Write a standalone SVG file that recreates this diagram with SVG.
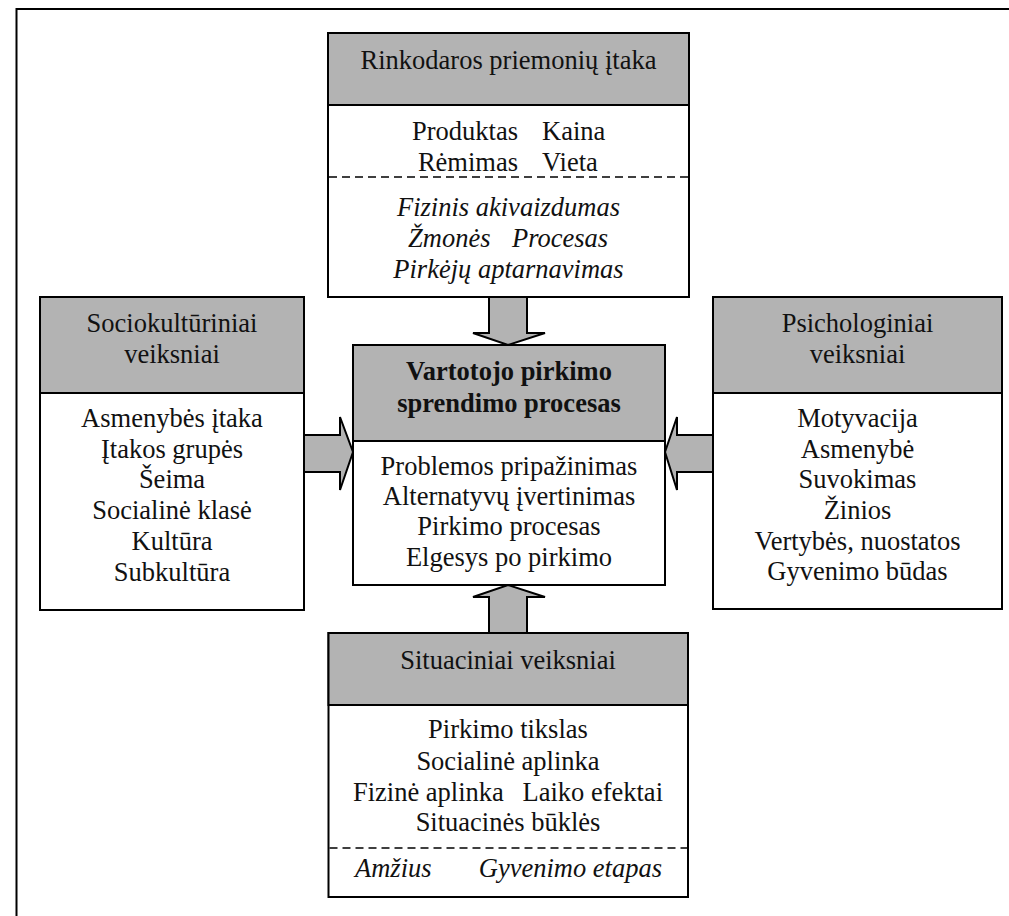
<svg xmlns="http://www.w3.org/2000/svg" width="1009" height="916" viewBox="0 0 1009 916" font-family="Liberation Serif, Times New Roman, serif">
<style>
text{font-size:26.5px;fill:#111;text-anchor:middle}
.i{font-style:italic}
.b{font-weight:bold}
.s{text-anchor:start}
.e{text-anchor:end}
.hd{fill:#b3b3b3;stroke:#000;stroke-width:2}
.bd{fill:#fff;stroke:#000;stroke-width:2}
.dash{stroke:#000;stroke-width:1.5;stroke-dasharray:8,5;fill:none}
.arr{fill:#b3b3b3;stroke:#000;stroke-width:2;stroke-linejoin:miter}
</style>
<rect width="1009" height="916" fill="#fff"/>
<path d="M16.5,916 V9 H1009" fill="none" stroke="#000" stroke-width="2"/>
<g id="connectors">
<polygon class="arr" points="489,297 489,333 473,333 508,345 545,333 527,333 527,297"/>
<polygon class="arr" points="304,435 340,435 340,417 353,452 340,490 340,472 304,472"/>
<polygon class="arr" points="713,435 677,435 677,417 665,452 677,490 677,472 713,472"/>
<polygon class="arr" points="489,633 489,597 473,597 508,585 545,597 527,597 527,633"/>
</g>
<g id="marketing" font-family="Liberation Serif, serif">
<rect class="bd" x="328" y="33" width="361" height="264"/>
<rect class="hd" x="328" y="33" width="361" height="72"/>
<line class="dash" x1="329" y1="177" x2="688" y2="177"/>
<text x="508.5" y="69">Rinkodaros priemonių įtaka</text>
<text class="e" x="518" y="140">Produktas</text>
<text class="s" x="542" y="140">Kaina</text>
<text class="e" x="518" y="171">Rėmimas</text>
<text class="s" x="542" y="171">Vieta</text>
<text class="i" x="508.5" y="216">Fizinis akivaizdumas</text>
<text class="i s" x="408" y="247">Žmonės</text>
<text class="i s" x="512" y="247">Procesas</text>
<text class="i" x="508.5" y="278">Pirkėjų aptarnavimas</text>
</g>
<g id="sociocultural" font-family="Liberation Serif, serif">
<rect class="bd" x="40" y="297" width="264" height="313"/>
<rect class="hd" x="40" y="297" width="264" height="96"/>
<text x="172" y="332">Sociokultūriniai</text>
<text x="172" y="363">veiksniai</text>
<text x="172" y="427">Asmenybės įtaka</text>
<text x="172" y="458">Įtakos grupės</text>
<text x="172" y="488">Šeima</text>
<text x="172" y="519">Socialinė klasė</text>
<text x="172" y="550">Kultūra</text>
<text x="172" y="581">Subkultūra</text>
</g>
<g id="decision" font-family="Liberation Serif, serif">
<rect class="bd" x="353" y="345" width="312" height="240"/>
<rect class="hd" x="353" y="345" width="312" height="96"/>
<text class="b" x="509" y="380">Vartotojo pirkimo</text>
<text class="b" x="509" y="412">sprendimo procesas</text>
<text x="509" y="475">Problemos pripažinimas</text>
<text x="509" y="505">Alternatyvų įvertinimas</text>
<text x="509" y="535">Pirkimo procesas</text>
<text x="509" y="566">Elgesys po pirkimo</text>
</g>
<g id="psychological" font-family="Liberation Serif, serif">
<rect class="bd" x="713" y="297" width="289" height="312"/>
<rect class="hd" x="713" y="297" width="289" height="96"/>
<text x="857.5" y="332">Psichologiniai</text>
<text x="857.5" y="363">veiksniai</text>
<text x="857.5" y="427">Motyvacija</text>
<text x="857.5" y="458">Asmenybė</text>
<text x="857.5" y="488">Suvokimas</text>
<text x="857.5" y="519">Žinios</text>
<text x="857.5" y="550">Vertybės, nuostatos</text>
<text x="857.5" y="580">Gyvenimo būdas</text>
</g>
<g id="situational" font-family="Liberation Serif, serif">
<rect class="bd" x="328.5" y="633" width="359.5" height="264"/>
<rect class="hd" x="328.5" y="633" width="359.5" height="72"/>
<line class="dash" x1="329.5" y1="848" x2="687" y2="848"/>
<text x="508" y="669">Situaciniai veiksniai</text>
<text x="508" y="738">Pirkimo tikslas</text>
<text x="508" y="770">Socialinė aplinka</text>
<text class="s" x="353" y="801">Fizinė aplinka</text>
<text class="e" x="663" y="801">Laiko efektai</text>
<text x="508" y="831">Situacinės būklės</text>
<text class="i s" x="355" y="877">Amžius</text>
<text class="i e" x="662" y="877">Gyvenimo etapas</text>
</g>
</svg>
